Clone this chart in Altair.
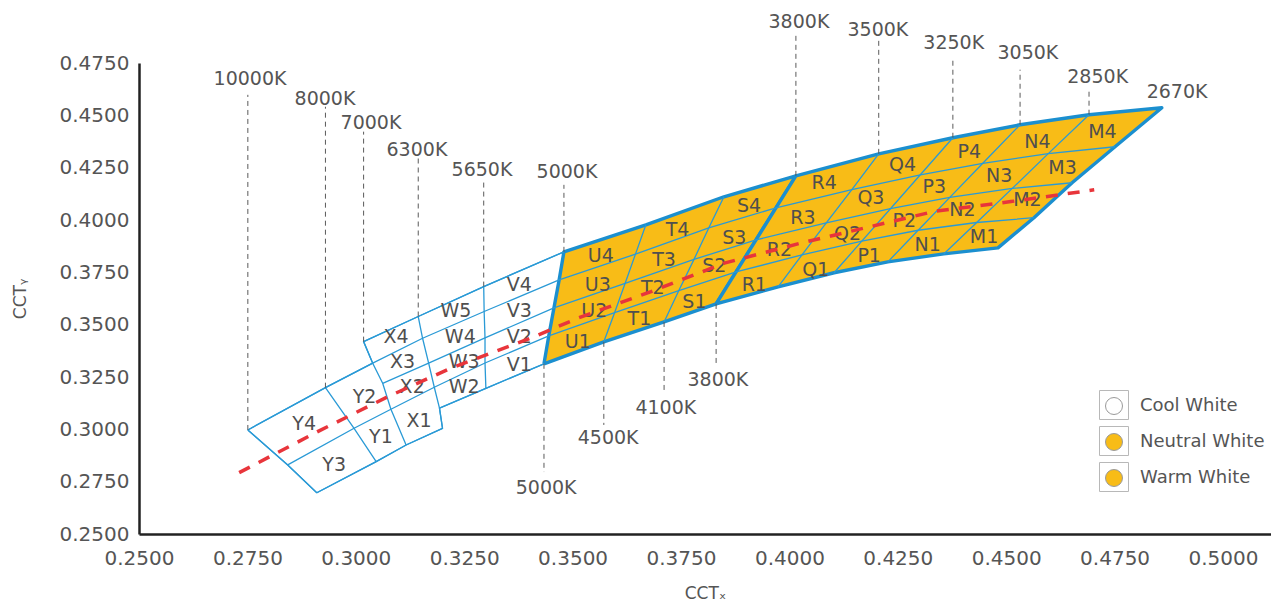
import altair as alt
import pandas as pd

# ---------------- data ----------------
# CCT boundaries of the neutral / warm bin field, 5 points each (bottom -> top)
bnd_cct = ["5000K", "4500K", "4100K", "3800K", "3500K", "3250K", "3050K", "2850K", "2670K"]
bnd_x = [
    [0.3434, 0.3445, 0.3457, 0.3469, 0.3480],
    [0.3572, 0.3597, 0.3621, 0.3645, 0.3669],
    [0.3711, 0.3745, 0.3780, 0.3814, 0.3849],
    [0.3831, 0.3877, 0.3923, 0.3969, 0.4015],
    [0.3974, 0.4029, 0.4085, 0.4144, 0.4206],
    [0.4103, 0.4167, 0.4233, 0.4302, 0.4377],
    [0.4227, 0.4297, 0.4370, 0.4446, 0.4532],
    [0.4356, 0.4432, 0.4514, 0.4597, 0.4691],
    [0.4481, 0.4564, 0.4652, 0.4751, 0.4859],
]
bnd_y = [
    [0.3313, 0.3446, 0.3580, 0.3714, 0.3848],
    [0.3418, 0.3558, 0.3697, 0.3837, 0.3977],
    [0.3513, 0.3663, 0.3812, 0.3962, 0.4111],
    [0.3599, 0.3752, 0.3905, 0.4058, 0.4211],
    [0.3681, 0.3833, 0.3986, 0.4145, 0.4316],
    [0.3748, 0.3899, 0.4054, 0.4216, 0.4393],
    [0.3800, 0.3951, 0.4108, 0.4271, 0.4455],
    [0.3838, 0.3988, 0.4151, 0.4317, 0.4503],
    [0.3867, 0.4011, 0.4178, 0.4350, 0.4536],
]

# cool-white field: grid polylines
cool_line_x = [
    [0.3018, 0.3144, 0.3295, 0.3480],
    [0.2751, 0.2930, 0.3039, 0.3154, 0.3296, 0.3469],
    [0.3062, 0.3168, 0.3298, 0.3457],
    [0.2843, 0.2996, 0.3081, 0.3181, 0.3298, 0.3445],
    [0.2910, 0.3047, 0.3116, 0.3200],
    [0.3193, 0.3300, 0.3434],
    [0.2751, 0.2843, 0.2910],
    [0.2930, 0.2996, 0.3047],
    [0.3018, 0.3039, 0.3062, 0.3081, 0.3116],
    [0.3144, 0.3154, 0.3168, 0.3181, 0.3193, 0.3200],
    [0.3295, 0.3296, 0.3298, 0.3298, 0.3300],
]
cool_line_y = [
    [0.3419, 0.3539, 0.3682, 0.3848],
    [0.2997, 0.3199, 0.3316, 0.3435, 0.3563, 0.3714],
    [0.3220, 0.3316, 0.3437, 0.3580],
    [0.2830, 0.3005, 0.3096, 0.3201, 0.3317, 0.3446],
    [0.2697, 0.2846, 0.2925, 0.3005],
    [0.3101, 0.3196, 0.3313],
    [0.2997, 0.2830, 0.2697],
    [0.3199, 0.3005, 0.2846],
    [0.3419, 0.3316, 0.3220, 0.3096, 0.2925],
    [0.3539, 0.3435, 0.3316, 0.3201, 0.3101, 0.3005],
    [0.3682, 0.3563, 0.3437, 0.3317, 0.3196],
]
cool_outline_x = [0.2751, 0.2930, 0.3039, 0.3018, 0.3144, 0.3295, 0.3480, 0.3434,
                  0.3300, 0.3193, 0.3200, 0.3116, 0.3047, 0.2910, 0.2843]
cool_outline_y = [0.2997, 0.3199, 0.3316, 0.3419, 0.3539, 0.3682, 0.3848, 0.3313,
                  0.3196, 0.3101, 0.3005, 0.2925, 0.2846, 0.2697, 0.2830]

# bin names and their label positions
bin_name = ["Y4", "Y3", "Y2", "Y1", "X4", "X3", "X2", "X1", "W5", "W4", "W3", "W2",
            "V4", "V3", "V2", "V1", "U4", "U3", "U2", "U1", "T4", "T3", "T2", "T1",
            "S4", "S3", "S2", "S1", "R4", "R3", "R2", "R1", "Q4", "Q3", "Q2", "Q1",
            "P4", "P3", "P2", "P1", "N4", "N3", "N2", "N1", "M4", "M3", "M2", "M1"]
bin_x = [0.2881, 0.2950, 0.3020, 0.3058, 0.3093, 0.3108, 0.3130, 0.3146,
         0.3231, 0.3241, 0.3250, 0.3250, 0.3377, 0.3377, 0.3377, 0.3377,
         0.3565, 0.3558, 0.3550, 0.3512, 0.3742, 0.3711, 0.3685, 0.3654,
         0.3907, 0.3873, 0.3827, 0.3781, 0.4080, 0.4031, 0.3977, 0.3919,
         0.4261, 0.4188, 0.4134, 0.4061, 0.4415, 0.4334, 0.4265, 0.4184,
         0.4572, 0.4484, 0.4399, 0.4319, 0.4722, 0.4630, 0.4549, 0.4449]
bin_y = [0.3026, 0.2830, 0.3156, 0.2965, 0.3440, 0.3324, 0.3204, 0.3042,
         0.3563, 0.3440, 0.3324, 0.3204, 0.3690, 0.3566, 0.3443, 0.3308,
         0.3826, 0.3690, 0.3563, 0.3419, 0.3953, 0.3810, 0.3674, 0.3526,
         0.4065, 0.3913, 0.3778, 0.3610, 0.4176, 0.4009, 0.3858, 0.3690,
         0.4264, 0.4105, 0.3934, 0.3762, 0.4327, 0.4160, 0.3993, 0.3826,
         0.4375, 0.4208, 0.4049, 0.3881, 0.4418, 0.4248, 0.4097, 0.3921]

# CCT labels
cct_text = ["10000K", "8000K", "7000K", "6300K", "5650K", "5000K", "3800K", "3500K",
            "3250K", "3050K", "2850K", "2670K", "5000K", "4500K", "4100K", "3800K"]
cct_tx = [0.2756, 0.2929, 0.3035, 0.3141, 0.3291, 0.3487, 0.4022, 0.4204,
          0.4379, 0.4550, 0.4711, 0.4894, 0.3439, 0.3582, 0.3715, 0.3835]
cct_ty = [0.4675, 0.4579, 0.4465, 0.4336, 0.4240, 0.4230, 0.4947, 0.4909,
          0.4847, 0.4799, 0.4684, 0.4613, 0.2720, 0.2959, 0.3102, 0.3236]

# dashed guide lines from bin corners to the CCT labels
guide_x = [0.2751, 0.2930, 0.3018, 0.3144, 0.3295, 0.3480, 0.4015, 0.4206,
           0.4377, 0.4532, 0.4691, 0.3434, 0.3572, 0.3711, 0.3831]
guide_y1 = [0.2997, 0.3199, 0.3419, 0.3539, 0.3682, 0.3848, 0.4211, 0.4316,
            0.4393, 0.4455, 0.4503, 0.3313, 0.3418, 0.3513, 0.3599]
guide_y2 = [0.4598, 0.4541, 0.4422, 0.4297, 0.4192, 0.4168, 0.4895, 0.4857,
            0.4775, 0.4718, 0.4622, 0.2796, 0.3021, 0.3174, 0.3317]

# black-body locus (red dashed)
locus_x = [0.2731, 0.2912, 0.3074, 0.3219, 0.3412, 0.3512, 0.3681, 0.3850,
           0.4027, 0.4188, 0.4334, 0.4511, 0.4703]
locus_y = [0.2793, 0.2989, 0.3156, 0.3292, 0.3443, 0.3531, 0.3658, 0.3794,
           0.3890, 0.3969, 0.4041, 0.4088, 0.4144]

groups = ["Cool White", "Neutral White", "Warm White"]
box_keys = ["cool", "neutral", "warm"]
x_ticks = [0.25, 0.275, 0.30, 0.325, 0.35, 0.375, 0.40, 0.425, 0.45, 0.475, 0.50]
y_ticks = [0.25, 0.275, 0.30, 0.325, 0.35, 0.375, 0.40, 0.425, 0.45, 0.475]

# ---------------- styling ----------------
FONT = "DejaVu Sans"
TXT = "#555555"
BLUE_THIN = "#2a9ad6"
BLUE_THICK = "#1b8fcf"
YELLOW = "#f8bc17"
RED = "#e8353b"

# ---------------- build tables ----------------
def region(i0, i1):
    pts = [(bnd_x[i0][k], bnd_y[i0][k]) for k in range(5)]
    pts += [(bnd_x[i][4], bnd_y[i][4]) for i in range(i0 + 1, i1 + 1)]
    pts += [(bnd_x[i1][k], bnd_y[i1][k]) for k in range(3, -1, -1)]
    pts += [(bnd_x[i][0], bnd_y[i][0]) for i in range(i1 - 1, i0 - 1, -1)]
    return pts

zone_rows = []
for name, (i0, i1) in {"Neutral White": (0, 3), "Warm White": (3, 8)}.items():
    for j, (x, y) in enumerate(region(i0, i1)):
        zone_rows.append({"poly": name, "idx": j, "x": x, "y": y})
zone_df = pd.DataFrame(zone_rows)

cool_pts = list(zip(cool_outline_x, cool_outline_y)) + [(cool_outline_x[0], cool_outline_y[0])]
cool_df = pd.DataFrame([{"poly": "Cool White", "idx": j, "x": x, "y": y}
                        for j, (x, y) in enumerate(cool_pts)])

line_rows = []
for li, (xs_, ys_) in enumerate(zip(cool_line_x, cool_line_y)):
    for j, (x, y) in enumerate(zip(xs_, ys_)):
        line_rows.append({"line": f"c{li}", "idx": j, "x": x, "y": y})
for k in (1, 2, 3):
    for i in range(len(bnd_x)):
        line_rows.append({"line": f"r{k}", "idx": i, "x": bnd_x[i][k], "y": bnd_y[i][k]})
for i in (1, 2, 4, 5, 6, 7):
    for k in range(5):
        line_rows.append({"line": f"b{i}", "idx": k, "x": bnd_x[i][k], "y": bnd_y[i][k]})
line_df = pd.DataFrame(line_rows)

bins_df = pd.DataFrame({"name": bin_name, "x": bin_x, "y": bin_y})
cct_df = pd.DataFrame({"label": cct_text, "x": cct_tx, "y": cct_ty})
guide_df = pd.DataFrame({"x": guide_x, "y": guide_y1, "y2": guide_y2})
locus_df = pd.DataFrame({"idx": list(range(len(locus_x))), "x": locus_x, "y": locus_y})
legend_df = pd.DataFrame({"x": [None] * 3, "y": [None] * 3, "group": groups, "box": box_keys})

# ---------------- encodings ----------------
xs = alt.Scale(domain=[0.25, 0.51107], nice=False, zero=False)
ys = alt.Scale(domain=[0.25, 0.475], nice=False, zero=False)
x_axis = alt.Axis(values=x_ticks, format=".4f", title="CCTₓ", labelPadding=14,
                  titlePadding=17, labelFlush=False, labelOverlap=False)
y_axis = alt.Axis(values=y_ticks, format=".4f", title="CCTᵧ", labelPadding=10,
                  titlePadding=30, labelFlush=False, labelOverlap=False)
X = alt.X("x:Q", scale=xs, axis=x_axis)
Y = alt.Y("y:Q", scale=ys, axis=y_axis)

cool_layer = alt.Chart(cool_df).mark_line(stroke=BLUE_THIN, strokeWidth=1.3).encode(
    X, Y, order="idx:Q", fill=alt.value("white"))
zone_layer = alt.Chart(zone_df).mark_line(stroke=BLUE_THICK, strokeWidth=3.4,
                                           strokeJoin="round").encode(
    X, Y, detail="poly:N", order="idx:Q", fill=alt.value(YELLOW))
grid_layer = alt.Chart(line_df).mark_line(stroke=BLUE_THIN, strokeWidth=1.3).encode(
    X, Y, detail="line:N", order="idx:Q")
guide_layer = alt.Chart(guide_df).mark_rule(color="#5a5a5a", strokeWidth=1,
                                             strokeDash=[5, 4]).encode(X, Y, y2="y2:Q")
bin_text = alt.Chart(bins_df).mark_text(font=FONT, fontSize=19, color="#4f4f4f").encode(
    X, Y, text="name:N")
cct_layer = alt.Chart(cct_df).mark_text(font=FONT, fontSize=19, color=TXT).encode(
    X, Y, text="label:N")
locus_layer = alt.Chart(locus_df).mark_line(stroke=RED, strokeWidth=3.5,
                                            strokeDash=[12, 10]).encode(X, Y, order="idx:Q")

box_legend = alt.Legend(title=None, orient="none", legendX=960, legendY=327, padding=0,
                        symbolType="square", symbolSize=841, symbolFillColor="transparent",
                        symbolStrokeColor="#b8b8b8", symbolStrokeWidth=1,
                        labelExpr="''", labelFontSize=18, rowPadding=2)
circle_legend = alt.Legend(title=None, orient="none", legendX=966, legendY=334, padding=0,
                           symbolType="circle", symbolSize=289, symbolStrokeColor="#9a9a9a",
                           symbolStrokeWidth=1, symbolOpacity=1, labelFont=FONT,
                           labelFontSize=18, labelColor=TXT, labelOffset=17, rowPadding=14)
legend_layer = alt.Chart(legend_df).mark_point(
    filled=True, shape="circle", stroke="#b0b0b0", strokeWidth=1, opacity=1
).encode(
    X, Y,
    fill=alt.Fill("group:N", scale=alt.Scale(domain=groups, range=["#ffffff", YELLOW, YELLOW]),
                  legend=circle_legend),
    opacity=alt.Opacity("box:N", scale=alt.Scale(domain=box_keys, range=[1, 1, 1]),
                        legend=box_legend),
)

chart = alt.layer(
    cool_layer, zone_layer, grid_layer, guide_layer, bin_text, cct_layer, locus_layer, legend_layer
).properties(
    width=1132, height=471,
    padding={"left": 131, "top": 55, "right": 0, "bottom": 69},
    autosize=alt.AutoSizeParams(type="none"),
    background="white",
).configure_view(strokeWidth=0).configure_axis(
    domainColor="#222222", domainWidth=2.5, ticks=False, grid=False,
    labelFont=FONT, labelFontSize=20, labelColor=TXT,
    titleFont=FONT, titleFontSize=17, titleFontWeight="normal", titleColor=TXT,
)

chart.save("out.html", embed_options={"renderer": "svg", "actions": False})
